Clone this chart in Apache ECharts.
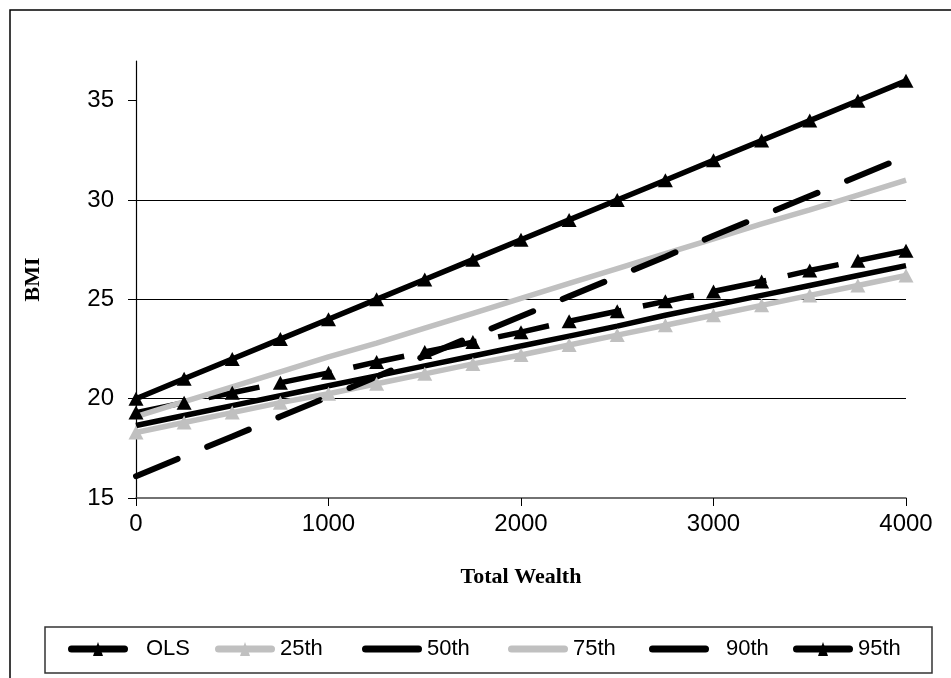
<!DOCTYPE html>
<html>
<head>
<meta charset="utf-8">
<script src="https://cdn.jsdelivr.net/npm/echarts@6/dist/echarts.min.js"></script>
<style>
html,body{margin:0;padding:0;background:#fff;}
#chart{width:951px;height:678px;}
</style>
</head>
<body>
<div id="chart"></div>
<script>
var wealth = [0,250,500,750,1000,1250,1500,1750,2000,2250,2500,2750,3000,3250,3500,3750,4000];
var ols  = [19.3,19.8,20.3,20.8,21.3,21.85,22.35,22.85,23.35,23.9,24.4,24.9,25.4,25.9,26.45,26.95,27.45];
var q25  = [18.3,18.8,19.3,19.8,20.25,20.75,21.25,21.75,22.2,22.7,23.2,23.7,24.2,24.7,25.2,25.7,26.2];
var q50  = [18.65,19.15,19.65,20.15,20.65,21.15,21.65,22.15,22.65,23.15,23.65,24.2,24.7,25.2,25.7,26.2,26.7];
var q75  = [19.1,19.85,20.6,21.35,22.1,22.8,23.55,24.3,25.05,25.8,26.55,27.3,28.05,28.8,29.5,30.25,31.0];
var q90  = [16.1,17.1,18.1,19.1,20.1,21.1,22.15,23.15,24.15,25.15,26.15,27.15,28.2,29.2,30.2,31.2,32.2];
var q95  = [20,21,22,23,24,25,26,27,28,29,30,31,32,33,34,35,36];
var yTicks = [15,20,25,30,35];
var xTicks = [0,1000,2000,3000,4000];
var names = ['OLS','25th','50th','75th','90th','95th'];

function pairs(arr){ return wealth.map(function(w,i){ return [w, arr[i]]; }); }

var BLACK = '#000000', GRAY = '#c0c0c0';
var colors = [BLACK, GRAY, BLACK, GRAY, BLACK, BLACK];
var legendLeft = [68, 215, 362, 508, 649, 793];
var legendTextPad = [18, 5, 5, 5, 17, 5];
var hasMarker = [true, true, false, false, false, true];

function legendIcon(color, marker){
  var svg = "<svg xmlns='http://www.w3.org/2000/svg' width='60' height='14' viewBox='0 0 60 14'>" +
    "<rect x='0' y='3.5' width='60' height='7' rx='3.5' ry='3.5' fill='" + color + "'/>" +
    (marker ? "<path d='M25 14 L30 0 L35 14 Z' fill='" + color + "'/>" : "") +
    "</svg>";
  return 'data:image/svg+xml;charset=utf-8,' + encodeURIComponent(svg);
}

var legends = names.map(function(n, i){
  return {
    data: [{name: n, icon: 'none'}],
    left: legendLeft[i] - 6, top: 638, padding: 0,
    itemWidth: 1, itemHeight: 14,
    formatter: function(name){ return '{ic|}{t|' + name + '}'; },
    textStyle: {
      fontFamily: 'Liberation Sans, Arial', fontSize: 22, color: '#000',
      rich: {
        ic: {width: 60, height: 14, backgroundColor: {image: legendIcon(colors[i], hasMarker[i])}, verticalAlign: 'middle'},
        t: {fontFamily: 'Liberation Sans, Arial', fontSize: 22, color: '#000', padding: [0,0,0,legendTextPad[i]], verticalAlign: 'middle'}
      }
    },
    selectedMode: false
  };
});

var chart = echarts.init(document.getElementById('chart'), null, {renderer: 'canvas'});
chart.setOption({
  backgroundColor: '#fff',
  animation: false,
  graphic: [
    {type: 'rect', shape: {x: 10, y: 10, width: 1000, height: 1000}, style: {fill: 'none', stroke: '#000', lineWidth: 1.5}, z: 100},
    {type: 'rect', shape: {x: 45, y: 627, width: 887, height: 46}, style: {fill: 'none', stroke: '#333', lineWidth: 1.5}, z: 100}
  ],
  legend: legends,
  grid: {left: 136, right: 45, top: 61, bottom: 180},
  xAxis: {
    type: 'value', min: 0, max: 4000, interval: 1000,
    name: 'Total Wealth', nameLocation: 'middle', nameGap: 68,
    nameTextStyle: {fontFamily: 'Liberation Serif, Times New Roman', fontWeight: 'bold', fontSize: 22, color: '#000'},
    axisLine: {lineStyle: {color: '#444', width: 1.5}},
    axisTick: {show: true, length: 8, lineStyle: {color: '#000'}, customValues: xTicks},
    axisLabel: {fontFamily: 'Liberation Sans, Arial', fontSize: 24, color: '#000', margin: 14, customValues: xTicks,
                formatter: function(v){ return String(v); }},
    splitLine: {show: false}
  },
  yAxis: {
    type: 'value', min: 15, max: 37, interval: 5,
    name: 'BMI', nameLocation: 'middle', nameGap: 92,
    nameTextStyle: {fontFamily: 'Liberation Serif, Times New Roman', fontWeight: 'bold', fontSize: 22, color: '#000'},
    axisLine: {show: true, lineStyle: {color: '#000', width: 1.2}},
    axisTick: {show: true, length: 8, lineStyle: {color: '#000'}, customValues: yTicks},
    axisLabel: {fontFamily: 'Liberation Sans, Arial', fontSize: 24, color: '#000', margin: 22, customValues: yTicks},
    splitLine: {show: true, showMinLine: false, showMaxLine: false, lineStyle: {color: '#000', width: 1}}
  },
  series: [
    {name: 'OLS', type: 'line', data: pairs(ols), symbol: 'triangle', symbolSize: [15, 14],
     itemStyle: {color: BLACK}, lineStyle: {color: BLACK, width: 5.5, type: [52, 22]}},
    {name: '25th', type: 'line', data: pairs(q25), symbol: 'triangle', symbolSize: [15, 14],
     itemStyle: {color: GRAY}, lineStyle: {color: GRAY, width: 5.5}},
    {name: '50th', type: 'line', data: pairs(q50), symbol: 'none',
     itemStyle: {color: BLACK}, lineStyle: {color: BLACK, width: 5.5}},
    {name: '75th', type: 'line', data: pairs(q75), symbol: 'none',
     itemStyle: {color: GRAY}, lineStyle: {color: GRAY, width: 5.5}},
    {name: '90th', type: 'line', data: pairs(q90), symbol: 'none',
     itemStyle: {color: BLACK}, lineStyle: {color: BLACK, width: 6, type: [45, 32], cap: 'round'}},
    {name: '95th', type: 'line', data: pairs(q95), symbol: 'triangle', symbolSize: [15, 14],
     itemStyle: {color: BLACK}, lineStyle: {color: BLACK, width: 5.5}}
  ]
});
</script>
</body>
</html>
